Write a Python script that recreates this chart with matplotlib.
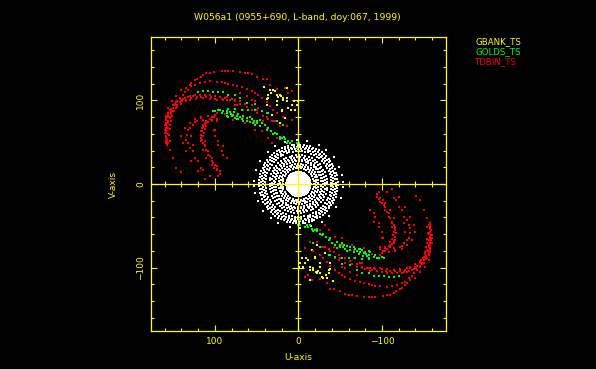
"""
plot.py - UV coverage plot, black background, one dot per visibility
"""

import numpy as np
from matplotlib import pyplot as plt

TITLE = "W056a1 (0955+690, L-band, doy:067, 1999)"
STATIONS = ["GBANK_TS", "GOLDS_TS", "TDBIN_TS"]
YELLOW = "#ffff00"
GREEN = "#00ff00"
RED = "#ff0000"

major_ticks = [-100, 0, 100]
major_labels = ["\u2212100", "0", "100"]
minor_ticks = [-160, -140, -120, -80, -60, -40, -20, 20, 40, 60, 80, 120, 140, 160]

# only one half of the plane is kept, the other half is the conjugate
red_a_u = [141, 146, 150, 154, 157, 160, 160, 158, 156, 151, 146, 140, 130, 124, 117, 110, 101, 92, 84, 78, 70, 64, 56, 50, 42, 34, 26, 16]
red_a_v = [14, 19, 31, 41, 51, 61, 71, 81, 91, 99, 105, 112, 119, 125, 128, 133, 134, 135, 135, 135, 134, 133, 132, 128, 126, 119, 114, 115]
red_b_u = [156, 158, 158, 157, 156, 153, 148, 142, 136, 128, 118, 106, 92, 84, 74, 62, 52, 44, 34, 26, 18]
red_b_v = [49, 57, 65, 73, 80, 89, 96, 103, 110, 117, 121, 123, 122, 120, 117, 114, 109, 103, 93, 85, 80]
red_c_u = [158, 159, 159, 159, 158, 158, 156, 153, 150, 146, 141, 136, 130, 124, 118, 112, 106, 100, 94, 88, 82, 76, 70, 62, 56, 49, 42, 36, 30]
red_c_v = [49, 55, 61, 67, 73, 79, 85, 90, 94, 98, 101, 103, 105, 106, 106, 106, 106, 105, 104, 103, 101, 99, 96, 92, 89, 85, 81, 78, 76]
red_c2_u = [154, 155, 156, 156, 154, 152, 149, 145, 140, 134, 130, 122, 114, 106, 98, 90, 85, 76, 66]
red_c2_v = [51, 59, 67, 73, 79, 84, 88, 92, 96, 99, 101, 102, 103, 102, 101, 100, 100, 95, 89]
red_d_u = [112, 120, 128, 134, 138, 140, 136, 130, 124, 116]
red_d_v = [6, 15, 27, 39, 49, 57, 67, 73, 78, 80]
red_e_u = [106, 114, 120, 126, 132, 133, 130, 124, 116, 108]
red_e_v = [9, 17, 27, 39, 49, 59, 67, 74, 79, 82]
red_f_u = [94, 98, 104, 108, 112, 116, 116, 114, 110, 104, 100]
red_f_v = [15, 21, 27, 35, 45, 55, 63, 71, 76, 80, 83]
red_f2_u = [96, 98, 104, 110, 114, 116, 117, 115, 110, 106]
red_f2_v = [9, 17, 23, 31, 41, 51, 59, 67, 73, 78]
red_g_u = [86, 92, 96, 100, 101, 98]
red_g_v = [31, 39, 47, 57, 65, 75]
red_h_u = [98, 88, 78, 66, 52, 38, 26]
red_h_v = [85, 84, 82, 79, 73, 67, 55]
red_i_u = [157, 158, 157, 158, 156, 158, 154, 160, 157, 154, 158, 156, 153, 158, 154, 151, 156, 153, 150, 154, 150, 147, 148, 145, 142, 139, 138, 134, 132, 128, 126, 121, 116, 110, 105, 100, 92, 86, 86, 80, 76, 70, 70]
red_i_v = [47, 51, 54, 58, 60, 63, 66, 65, 68, 71, 71, 75, 76, 77, 80, 82, 83, 86, 87, 89, 91, 91, 95, 95, 98, 99, 102, 101, 104, 103, 105, 104, 104, 104, 104, 102, 102, 101, 104, 102, 100, 99, 103]
red_j_u = [115, 114, 112, 114, 113, 115, 112, 114, 110, 112, 108, 110, 106, 104, 112, 110, 108, 106, 104, 102, 100, 97, 101, 94, 104, 108, 101, 98, 114, 121, 126, 132, 134, 130, 124, 117, 126, 128, 100, 96, 90, 90]
red_j_v = [53, 49, 51, 57, 61, 63, 66, 68, 70, 72, 74, 76, 78, 77, 47, 41, 39, 33, 31, 25, 23, 18, 19, 12, 76, 82, 80, 78, 77, 76, 71, 65, 53, 43, 31, 19, 47, 57, 65, 51, 45, 35]
red_k_u = [74, 64, 56, 50, 44, 38, 32, 28, 22, 12, 8, 70, 62, 56, 52, 48, 42, 78, 64, 52, 44, 36, 32, 14, 8]
red_k_v = [95, 96, 94, 89, 88, 80, 76, 76, 69, 109, 111, 109, 105, 101, 99, 91, 75, 77, 73, 65, 63, 55, 49, 69, 77]
red_l_u = [134, 128, 121, 114, 106, 88, 60, 38, 145, 138, 132, 124, 112, 98, 88, 78, 68, 56, 48, 38, 30]
red_l_v = [115, 121, 126, 130, 133, 135, 133, 126, 99, 106, 113, 119, 122, 122, 121, 118, 116, 111, 106, 98, 89]

green_a_u = [102, 96, 90, 85, 81, 78, 74, 70, 66, 62, 56, 50, 44, 36, 28, 20, 16, 10, 2, -1]
green_a_v = [88, 89, 87, 85, 84, 83, 82, 80, 81, 79, 78, 76, 73, 67, 61, 55, 54, 49, 43, 49]
green_b_u = [94, 84, 76, 68, 60, 52, 44, 36, 26, 18, 12]
green_b_v = [89, 90, 90, 89, 89, 89, 87, 85, 75, 71, 51]
green_c_u = [84, 80, 76, 72, 66, 58, 52, 46, 38, 30, 22, 14]
green_c_v = [80, 82, 79, 78, 76, 74, 71, 69, 65, 60, 56, 49]
green_d_u = [120, 114, 108, 102, 96, 90, 84, 76, 70, 62, 52, 38]
green_d_v = [110, 111, 111, 110, 110, 110, 107, 107, 103, 97, 96, 85]
green_e_u = [100, 92, 86, 82, 77, 72, 68, 62, 58, 53, 50, 46, 40, 33, 26, 22, 17, 8, 2, 85, 74, 54]
green_e_v = [87, 85, 82, 86, 86, 84, 78, 76, 80, 76, 73, 77, 71, 63, 60, 54, 56, 51, 49, 88, 78, 73]

yellow_u = [41, 34, 33, 28, 26, 21, 18, 14, 14, 36, 38, 32, 20, 5, 2, 4, 12, 26, 8, 22, 16, 30, 24, 18, 22, 14, 36, 38, 26, 9, 1, 20]
yellow_v = [116, 113, 109, 111, 107, 105, 101, 99, 115, 103, 95, 83, 87, 99, 95, 89, 91, 95, 95, 73, 79, 112, 104, 103, 107, 103, 107, 102, 99, 89, 99, 89]

# white tracks around the centre: radius and the angles (deg) read on it
white_radii = [53, 47, 44.5, 42, 39.5, 34.5, 32, 29.5, 27.5, 24, 21.5, 19, 14.5, 12.5, 10.5, 8.5, 6.5, 4.5, 2.5]
white_angles = [
    [4, 18, 31, 47, 58, 73, 88, 101, 117, 129, 143, 157, 168, 178],
    [1, 6, 10, 15, 19, 24, 29, 33, 38, 43, 47, 52, 57, 61, 66, 70, 75, 80, 84, 89, 93, 98, 103, 107, 112, 117, 121, 126, 130, 135, 140, 144, 149, 153, 158, 163, 167, 172, 177],
    [3, 8, 12, 17, 22, 27, 31, 36, 41, 45, 50, 55, 60, 64, 69, 74, 78, 83, 88, 93, 97, 102, 107, 111, 116, 121, 126, 130, 135, 140, 144, 149, 154, 159, 163, 168, 173, 178],
    [0, 5, 10, 15, 20, 25, 30, 35, 40, 45, 50, 55, 60, 65, 70, 75, 80, 85, 90, 95, 100, 105, 110, 115, 120, 125, 130, 135, 140, 145, 150, 155, 160, 165, 170, 175],
    [3, 8, 14, 19, 25, 30, 36, 41, 47, 52, 58, 63, 69, 74, 80, 85, 91, 96, 102, 107, 113, 118, 124, 129, 135, 140, 146, 151, 157, 162, 168, 173, 179],
    [0, 7, 13, 20, 26, 33, 39, 46, 52, 59, 65, 72, 78, 85, 91, 98, 104, 111, 117, 124, 130, 137, 143, 150, 156, 163, 169, 176],
    [3, 10, 17, 24, 31, 38, 45, 52, 59, 66, 73, 80, 87, 94, 101, 108, 115, 122, 129, 136, 143, 150, 157, 164, 171, 178],
    [1, 8, 16, 23, 31, 38, 46, 53, 61, 68, 76, 83, 91, 98, 106, 113, 121, 128, 136, 143, 151, 158, 166, 173],
    [4, 12, 20, 28, 36, 44, 52, 60, 68, 76, 84, 92, 100, 108, 116, 124, 132, 140, 148, 156, 164, 172],
    [0, 8, 16, 24, 32, 40, 48, 56, 64, 72, 80, 88, 96, 104, 112, 120, 128, 136, 144, 152, 160, 168, 176],
    [4, 13, 22, 31, 40, 49, 58, 67, 76, 85, 94, 103, 112, 121, 130, 139, 148, 157, 166, 175],
    [0, 10, 20, 30, 40, 50, 60, 70, 80, 90, 100, 110, 120, 130, 140, 150, 160, 170],
    [0, 6, 13, 19, 26, 32, 39, 45, 52, 58, 65, 71, 78, 84, 91, 97, 104, 110, 117, 123, 130, 136, 143, 149, 156, 162, 169, 175],
    [3, 11, 18, 26, 33, 41, 48, 56, 63, 71, 78, 86, 93, 101, 108, 116, 123, 131, 138, 146, 153, 161, 168, 176],
    [0, 9, 18, 27, 36, 45, 54, 63, 72, 81, 90, 99, 108, 117, 126, 135, 144, 153, 162, 171],
    [5, 16, 27, 38, 49, 60, 71, 82, 93, 104, 115, 126, 137, 148, 159, 170],
    [0, 13, 26, 39, 52, 65, 78, 91, 104, 117, 130, 143, 156, 169],
    [10, 30, 50, 70, 90, 110, 130, 150, 170],
    [15, 45, 75, 105, 135, 165],
]


def both_sides(us, vs):
    """Return U and V with the conjugate points added."""
    u = np.array(us, dtype=float)
    v = np.array(vs, dtype=float)
    return np.concatenate([u, -u]), np.concatenate([v, -v])


def white_points():
    us = []
    vs = []
    for radius, angles in zip(white_radii, white_angles):
        rad = np.deg2rad(angles)
        us.extend(radius * np.cos(rad))
        vs.extend(radius * np.sin(rad))
    return both_sides(us, vs)


def dots(ax, us, vs, color):
    u, v = both_sides(us, vs)
    ax.scatter(u, v, s=2.2, c=color, marker='s', linewidths=0, antialiased=False, zorder=2)


def main():
    fig = plt.figure(figsize=(5.96, 3.69), dpi=100, facecolor='k')
    ax = fig.add_axes([150.5 / 596, 1 - 331 / 369, 295 / 596, 294 / 369], facecolor='k')

    u, v = white_points()
    ax.scatter(u, v, s=2.2, c='w', marker='s', linewidths=0, antialiased=False, zorder=2)
    dots(ax, yellow_u, yellow_v, YELLOW)
    dots(ax, red_a_u, red_a_v, RED)
    dots(ax, red_b_u, red_b_v, RED)
    dots(ax, red_c_u, red_c_v, RED)
    dots(ax, red_c2_u, red_c2_v, RED)
    dots(ax, red_d_u, red_d_v, RED)
    dots(ax, red_e_u, red_e_v, RED)
    dots(ax, red_f_u, red_f_v, RED)
    dots(ax, red_f2_u, red_f2_v, RED)
    dots(ax, red_g_u, red_g_v, RED)
    dots(ax, red_h_u, red_h_v, RED)
    dots(ax, red_i_u, red_i_v, RED)
    dots(ax, red_j_u, red_j_v, RED)
    dots(ax, red_k_u, red_k_v, RED)
    dots(ax, red_l_u, red_l_v, RED)
    dots(ax, green_a_u, green_a_v, GREEN)
    dots(ax, green_b_u, green_b_v, GREEN)
    dots(ax, green_c_u, green_c_v, GREEN)
    dots(ax, green_d_u, green_d_v, GREEN)
    dots(ax, green_e_u, green_e_v, GREEN)

    ax.set_xlim(177, -176)
    ax.set_ylim(-176, 176)

    # zero lines carry ticks of their own
    ax.axhline(0, color=YELLOW, lw=0.9, zorder=3)
    ax.axvline(0, color=YELLOW, lw=0.9, zorder=3)
    ax.plot(minor_ticks, np.zeros(len(minor_ticks)), '|', color=YELLOW, ms=4, mew=0.8, zorder=3)
    ax.plot(np.zeros(len(minor_ticks)), minor_ticks, '_', color=YELLOW, ms=4, mew=0.8, zorder=3)
    ax.plot([-100, 100], [0, 0], '|', color=YELLOW, ms=8, mew=0.8, zorder=3)
    ax.plot([0, 0], [-100, 100], '_', color=YELLOW, ms=8, mew=0.8, zorder=3)

    for spine in ax.spines.values():
        spine.set_color(YELLOW)
        spine.set_linewidth(0.9)

    ax.set_xticks(major_ticks, major_labels)
    ax.set_yticks(major_ticks, major_labels)
    ax.set_xticks(minor_ticks, minor=True)
    ax.set_yticks(minor_ticks, minor=True)
    ax.tick_params(which='both', direction='in', color=YELLOW, top=True, right=True, labelcolor=YELLOW, labelsize=6.5)
    ax.tick_params(which='major', length=4.5, width=0.8, pad=4)
    ax.tick_params(which='minor', length=2.2, width=0.8)
    for lab in ax.get_yticklabels():
        lab.set_rotation(90)
        lab.set_va('center')

    fig.text(297.5 / 596, 1 - 17 / 369, TITLE, color=YELLOW, fontsize=6.7, ha='center', va='center')
    fig.text(298 / 596, 1 - 358 / 369, "U-axis", color=YELLOW, fontsize=6.5, ha='center', va='center')
    fig.text(113 / 596, 1 - 184 / 369, "V-axis", color=YELLOW, fontsize=6.5, ha='center', va='center', rotation=90)

    for name, color, y in zip(STATIONS, [YELLOW, GREEN, RED], [42, 52, 62]):
        fig.text(475 / 596, 1 - y / 369, name, color=color, fontsize=6.2, ha='left', va='center')

    fig.savefig("out.png", dpi=100, facecolor='k')


if __name__ == "__main__":
    main()
